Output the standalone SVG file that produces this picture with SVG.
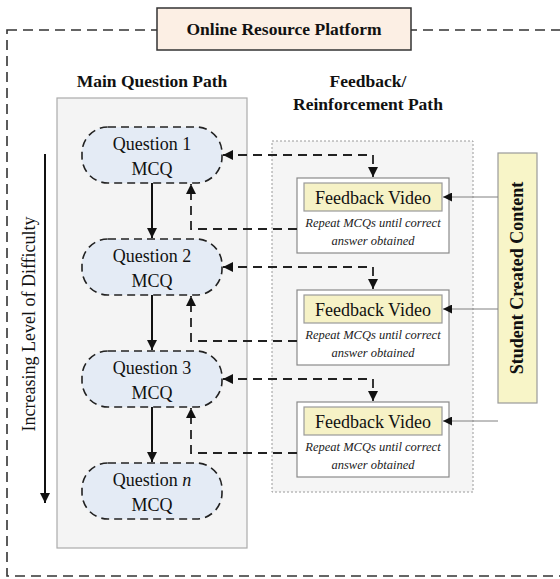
<svg xmlns="http://www.w3.org/2000/svg" width="560" height="579" viewBox="0 0 560 579">
  <defs>
    <style>
      .serif { font-family: "Liberation Serif", "Times New Roman", serif; fill: #111; }
      .bold { font-weight: bold; }
      .heading { font-size: 17.5px; font-weight: bold; text-anchor: middle; }
      .qtext { font-size: 18px; text-anchor: middle; }
      .fbtext { font-size: 18px; text-anchor: middle; }
      .note { font-size: 12.5px; font-style: italic; text-anchor: middle; fill: #222; }
      .qnode { fill: #e4ebf5; stroke: #222; stroke-width: 1.6; stroke-dasharray: 8 5; }
      .fbouter { fill: #ffffff; stroke: #8a8a8a; stroke-width: 1.2; }
      .fbinner { fill: #f6f2c6; stroke: #9a9a9a; stroke-width: 1.2; }
      .solid { fill: none; stroke: #111; stroke-width: 2; }
      .dashed { fill: none; stroke: #222; stroke-width: 1.8; stroke-dasharray: 9 6; }
      .thin { fill: none; stroke: #808080; stroke-width: 1; }
    </style>
    <marker id="arrow" viewBox="0 0 10 10" refX="10" refY="5" markerWidth="10" markerHeight="10" markerUnits="userSpaceOnUse" orient="auto-start-reverse">
      <path d="M0,0 L10,5 L0,10 z" fill="#111"/>
    </marker>
    <marker id="arrowSm" viewBox="0 0 10 10" refX="10" refY="5" markerWidth="9" markerHeight="9" markerUnits="userSpaceOnUse" orient="auto">
      <path d="M0,0 L10,5 L0,10 z" fill="#111"/>
    </marker>
  </defs>

  <rect width="560" height="579" fill="#ffffff"/>

  <!-- platform boundary -->
  <rect id="platform-boundary" x="7" y="30" width="560" height="546" fill="none" stroke="#333" stroke-width="1.6" stroke-dasharray="10 6"/>

  <g id="platform-title">
    <rect x="157" y="8" width="254" height="42" fill="#fcefe4" stroke="#333" stroke-width="1.5"/>
    <text class="serif heading" x="284" y="35">Online Resource Platform</text>
  </g>

  <!-- column panels -->
  <g id="main-path-panel">
    <text class="serif heading" x="152" y="87">Main Question Path</text>
    <rect x="57" y="98" width="190" height="450" fill="#f4f4f4" stroke="#ababab" stroke-width="1.2"/>
  </g>
  <g id="feedback-path-panel">
    <text class="serif heading" x="368" y="87">Feedback/</text>
    <text class="serif heading" x="368" y="110">Reinforcement Path</text>
    <rect x="272" y="141" width="201" height="351" fill="#f5f5f5" stroke="#9a9a9a" stroke-width="1" stroke-dasharray="2 2"/>
  </g>

  <!-- difficulty axis -->
  <g id="difficulty-axis">
    <line x1="45" y1="154" x2="45" y2="503" stroke="#111" stroke-width="2" marker-end="url(#arrow)"/>
    <text class="serif" font-size="18" text-anchor="middle" transform="translate(35,324) rotate(-90)">Increasing Level of Difficulty</text>
  </g>

  <!-- question nodes -->
  <g id="question-1">
    <rect class="qnode" x="82" y="127" width="140" height="56" rx="26"/>
    <text class="serif qtext" x="152" y="150">Question 1</text>
    <text class="serif qtext" x="152" y="175">MCQ</text>
  </g>
  <g id="question-2">
    <rect class="qnode" x="82" y="239" width="140" height="56" rx="26"/>
    <text class="serif qtext" x="152" y="262">Question 2</text>
    <text class="serif qtext" x="152" y="287">MCQ</text>
  </g>
  <g id="question-3">
    <rect class="qnode" x="82" y="351" width="140" height="56" rx="26"/>
    <text class="serif qtext" x="152" y="374">Question 3</text>
    <text class="serif qtext" x="152" y="399">MCQ</text>
  </g>
  <g id="question-n">
    <rect class="qnode" x="82" y="463" width="140" height="56" rx="26"/>
    <text class="serif qtext" x="152" y="486">Question <tspan font-style="italic">n</tspan></text>
    <text class="serif qtext" x="152" y="511">MCQ</text>
  </g>

  <!-- feedback nodes -->
  <g id="feedback-1">
    <rect class="fbouter" x="297" y="178" width="152" height="75"/>
    <rect class="fbinner" x="304" y="183" width="138" height="28"/>
    <text class="serif fbtext" x="373" y="204">Feedback Video</text>
    <text class="serif note" x="373" y="227">Repeat MCQs until correct</text>
    <text class="serif note" x="373" y="245">answer obtained</text>
  </g>
  <g id="feedback-2">
    <rect class="fbouter" x="297" y="290" width="152" height="75"/>
    <rect class="fbinner" x="304" y="295" width="138" height="28"/>
    <text class="serif fbtext" x="373" y="316">Feedback Video</text>
    <text class="serif note" x="373" y="339">Repeat MCQs until correct</text>
    <text class="serif note" x="373" y="357">answer obtained</text>
  </g>
  <g id="feedback-3">
    <rect class="fbouter" x="297" y="402" width="152" height="75"/>
    <rect class="fbinner" x="304" y="407" width="138" height="28"/>
    <text class="serif fbtext" x="373" y="428">Feedback Video</text>
    <text class="serif note" x="373" y="451">Repeat MCQs until correct</text>
    <text class="serif note" x="373" y="469">answer obtained</text>
  </g>

  <!-- student content source -->
  <g id="student-content">
    <rect x="498" y="153" width="39" height="250" fill="#f8f5c8" stroke="#9a9a9a" stroke-width="1.2"/>
    <text class="serif bold" font-size="18" text-anchor="middle" transform="translate(523,278) rotate(-90)">Student Created Content</text>
  </g>

  <!-- connectors -->
  <g id="connectors">
    <!-- progression between questions -->
    <path class="solid" d="M152,183 V238" marker-end="url(#arrow)"/>
    <path class="solid" d="M152,295 V350" marker-end="url(#arrow)"/>
    <path class="solid" d="M152,407 V462" marker-end="url(#arrow)"/>

    <!-- question to feedback (two-way) -->
    <path class="dashed" d="M223,155 H373 V177" marker-start="url(#arrow)" marker-end="url(#arrow)"/>
    <path class="dashed" d="M223,267 H373 V289" marker-start="url(#arrow)" marker-end="url(#arrow)"/>
    <path class="dashed" d="M223,379 H373 V401" marker-start="url(#arrow)" marker-end="url(#arrow)"/>

    <!-- feedback back to question -->
    <path class="dashed" d="M297,229 H191 V184" marker-end="url(#arrow)"/>
    <path class="dashed" d="M297,341 H191 V296" marker-end="url(#arrow)"/>
    <path class="dashed" d="M297,453 H191 V408" marker-end="url(#arrow)"/>

    <!-- student content feeds videos -->
    <path class="thin" d="M498,197 H443" marker-end="url(#arrowSm)"/>
    <path class="thin" d="M498,309 H443" marker-end="url(#arrowSm)"/>
    <path class="thin" d="M498,421 H443" marker-end="url(#arrowSm)"/>
  </g>
</svg>
